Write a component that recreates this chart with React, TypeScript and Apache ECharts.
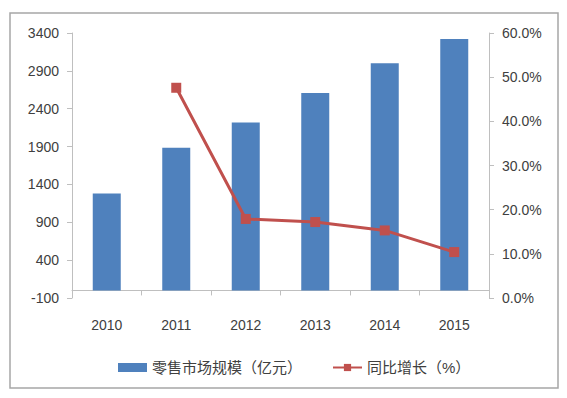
import React, { useEffect, useRef } from "react";
import * as echarts from "echarts";

const categories = ["2010", "2011", "2012", "2013", "2014", "2015"];
const marketSize = [1281, 1883, 2217, 2609, 3000, 3321];
const growth = [null, 47.6, 17.9, 17.2, 15.3, 10.4];
const leftTicks = [-100, 400, 900, 1400, 1900, 2400, 2900, 3400];
const barName = "零售市场规模（亿元）";
const lineName = "同比增长（%）";

export default function App() {
  const ref = useRef<HTMLDivElement>(null);
  useEffect(() => {
    const chart = echarts.init(ref.current!, null, { renderer: "svg" });
    const labelColor = "#404040";
    const axisColor = "#BFBFBF";
    const font = "'Liberation Sans', 'Noto Sans CJK SC', sans-serif";
    chart.setOption({
      animation: false,
      textStyle: { fontFamily: font },
      graphic: [
        {
          type: "rect",
          shape: { x: 10, y: 13, width: 548, height: 375 },
          style: { fill: "none", stroke: "#A6A6A6", lineWidth: 1.5 },
          silent: true,
        },
      ],
      legend: {
        left: 113,
        top: 355,
        itemWidth: 29,
        itemHeight: 9,
        itemGap: 30,
        textStyle: { fontSize: 15, color: labelColor, fontFamily: font },
        data: [
          { name: barName, icon: "rect" },
          { name: lineName },
        ],
      },
      grid: { left: 72, right: 78, top: 33, bottom: 100, containLabel: false },
      xAxis: {
        type: "category",
        data: categories,
        axisLine: { onZero: true, onZeroAxisIndex: 0, lineStyle: { color: axisColor, width: 1 } },
        axisTick: { show: true, length: 5, lineStyle: { color: axisColor } },
        axisLabel: { color: labelColor, fontSize: 14, margin: 20 },
      },
      yAxis: [
        {
          type: "value",
          min: -100,
          max: 3400,
          splitLine: { show: false },
          axisLine: { show: true, lineStyle: { color: axisColor } },
          axisTick: { show: true, length: 5, lineStyle: { color: axisColor }, customValues: leftTicks },
          axisLabel: {
            color: labelColor,
            fontSize: 14,
            margin: 13,
            customValues: leftTicks,
            formatter: (v: number) => String(v),
          },
        },
        {
          type: "value",
          min: 0,
          max: 60,
          interval: 10,
          position: "right",
          splitLine: { show: false },
          axisLine: { show: true, lineStyle: { color: axisColor } },
          axisTick: { show: true, length: 5, lineStyle: { color: axisColor } },
          axisLabel: {
            color: labelColor,
            fontSize: 14,
            margin: 13,
            formatter: (v: number) => v.toFixed(1) + "%",
          },
        },
      ],
      series: [
        {
          name: barName,
          type: "bar",
          data: marketSize,
          barWidth: 28,
          itemStyle: { color: "#4F81BD" },
          yAxisIndex: 0,
        },
        {
          name: lineName,
          type: "line",
          data: growth,
          yAxisIndex: 1,
          symbol: "rect",
          symbolSize: 10,
          lineStyle: { color: "#C0504D", width: 3 },
          itemStyle: { color: "#C0504D" },
        },
      ],
    });
    return () => chart.dispose();
  }, []);
  return (
    <div
      ref={ref}
      style={{ position: "fixed", left: 0, top: 0, width: 567, height: 398, background: "#fff" }}
    />
  );
}
